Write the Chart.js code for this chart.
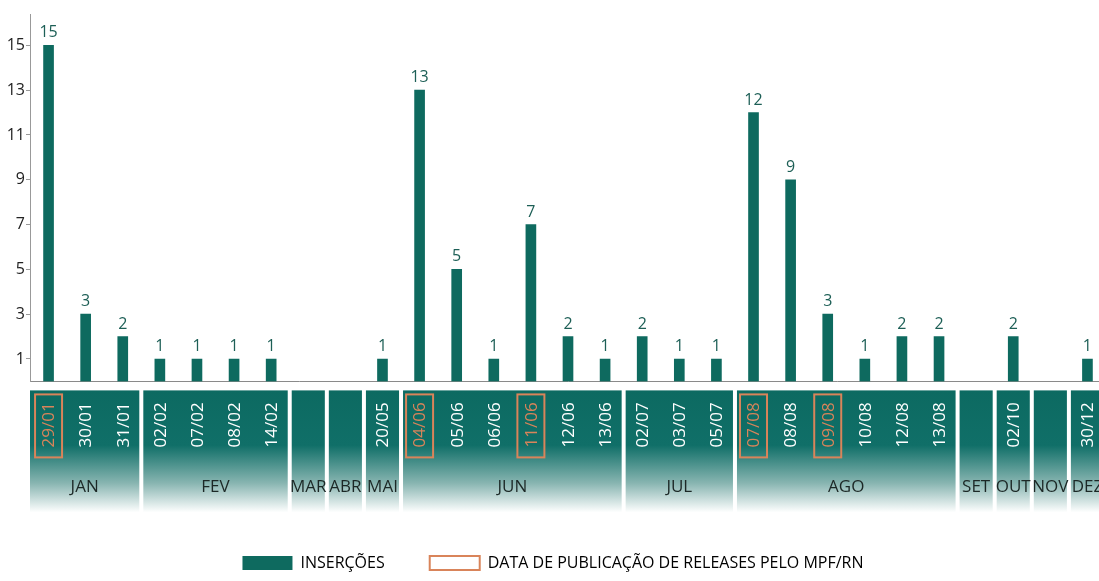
<!DOCTYPE html>
<html>
<head>
<meta charset="utf-8">
<title>Inserções</title>
<script src="https://cdn.jsdelivr.net/npm/chart.js@4"></script>
<style>
	html, body { margin: 0; padding: 0; background: #fff; overflow: hidden; }
	#wrap { position: relative; width: 1116px; height: 581px; }
</style>
</head>
<body>
<div id="wrap"><canvas id="chart"></canvas></div>
<script>
// dates with insertions ('' = month without any)
const dates = [
	'29/01', '30/01', '31/01',
	'02/02', '07/02', '08/02', '14/02',
	'', '',
	'20/05',
	'04/06', '05/06', '06/06', '11/06', '12/06', '13/06',
	'02/07', '03/07', '05/07',
	'07/08', '08/08', '09/08', '10/08', '12/08', '13/08',
	'',
	'02/10',
	'',
	'30/12'
];
const insercoes = [
	15, 3, 2,
	1, 1, 1, 1,
	null, null,
	1,
	13, 5, 1, 7, 2, 1,
	2, 1, 1,
	12, 9, 3, 1, 2, 2,
	null,
	2,
	null,
	1
];
const months = ['JAN', 'FEV', 'MAR', 'ABR', 'MAI', 'JUN', 'JUL', 'AGO', 'SET', 'OUT', 'NOV', 'DEZ'];
const monthSizes = [3, 4, 1, 1, 1, 6, 3, 6, 1, 1, 1, 1];
const releaseDates = ['29/01', '04/06', '11/06', '07/08', '09/08'];
const yTicks = [1, 3, 5, 7, 9, 11, 13, 15];

const TEAL = '#0e6a5f';
const ORANGE = '#d9845a';
const FONT = '"Open Sans", sans-serif';

// value above each bar
const valueLabels = {
	id: 'valueLabels',
	afterDatasetsDraw (chart) {
		const ctx = chart.ctx;
		const meta = chart.getDatasetMeta(0);
		ctx.save();
		ctx.font = '16px ' + FONT;
		ctx.fillStyle = '#1d5f56';
		ctx.textAlign = 'center';
		ctx.textBaseline = 'alphabetic';
		meta.data.forEach((bar, i) => {
			const v = insercoes[i];
			if (v === null) return;
			ctx.fillText(String(v), bar.x, bar.y - 8);
		});
		ctx.restore();
	}
};

// month band under the axis, with rotated dates
const monthBand = {
	id: 'monthBand',
	afterDraw (chart) {
		const ctx = chart.ctx;
		const x = chart.scales.x;
		const area = chart.chartArea;
		const slot = x.getPixelForValue(1) - x.getPixelForValue(0);
		const top = area.bottom + 9;
		const bottom = area.bottom + 131;

		const grad = ctx.createLinearGradient(0, top, 0, bottom);
		grad.addColorStop(0, '#0c6a61');
		grad.addColorStop(0.45, '#106f68');
		grad.addColorStop(0.76, '#88b5b1');
		grad.addColorStop(1, '#ffffff');

		ctx.save();
		let start = 0;
		months.forEach((name, g) => {
			const end = start + monthSizes[g] - 1;
			let l = x.getPixelForValue(start) - slot / 2;
			let r = x.getPixelForValue(end) + slot / 2;
			l = g === 0 ? area.left : l + 2;
			r = r - 2;
			ctx.fillStyle = grad;
			ctx.fillRect(l, top, r - l, bottom - top);

			ctx.fillStyle = '#1c2826';
			ctx.font = '17px ' + FONT;
			ctx.textAlign = 'center';
			ctx.textBaseline = 'middle';
			ctx.fillText(name, (l + r) / 2, area.bottom + 106);
			start = end + 1;
		});

		// dates
		dates.forEach((d, i) => {
			if (!d) return;
			const px = x.getPixelForValue(i);
			const hl = releaseDates.includes(d);
			if (hl) {
				ctx.strokeStyle = ORANGE;
				ctx.lineWidth = 2;
				ctx.strokeRect(px - 13.5, area.bottom + 13, 27, 63);
			}
			ctx.save();
			ctx.translate(px, area.bottom + 66);
			ctx.rotate(-Math.PI / 2);
			ctx.font = '17px ' + FONT;
			ctx.fillStyle = hl ? ORANGE : '#ffffff';
			ctx.textAlign = 'left';
			ctx.textBaseline = 'middle';
			ctx.fillText(d, 0, 1);
			ctx.restore();
		});
		ctx.restore();
	}
};

const ctx = document.getElementById('chart').getContext('2d');

const myChart = new Chart(ctx, {
	type: 'bar',
	data: {
		labels: dates,
		datasets: [{
			label: 'INSERÇÕES',
			data: insercoes,
			backgroundColor: TEAL,
			barThickness: 10
		}]
	},
	options: {
		responsive: true,
		maintainAspectRatio: false,
		animation: false,
		layout: {
			padding: { top: 14, right: 10, left: 0, bottom: 0 }
		},
		scales: {
			x: {
				grid: { display: false },
				border: { display: true, color: '#8a8a8a', width: 1 },
				ticks: { display: false },
				afterFit (scale) { scale.height = 128.6; }
			},
			y: {
				min: 0,
				max: 16.4,
				grid: {
					display: true,
					drawOnChartArea: false,
					drawTicks: true,
					tickLength: 4,
					color: '#999'
				},
				border: { display: true, color: '#999', width: 1 },
				ticks: {
					padding: 1,
					color: '#222',
					font: { family: FONT, size: 16 }
				},
				afterBuildTicks (scale) {
					scale.ticks = yTicks.map(v => ({ value: v }));
				},
				afterFit (scale) { scale.width = 30; }
			}
		},
		plugins: {
			tooltip: { enabled: false },
			legend: {
				position: 'bottom',
				labels: {
					boxWidth: 50,
					boxHeight: 14,
					padding: 45,
					color: '#222',
					font: { family: FONT, size: 16 },
					generateLabels () {
						return [
							{ text: 'INSERÇÕES', fillStyle: TEAL, strokeStyle: TEAL, lineWidth: 0, datasetIndex: 0 },
							{ text: 'DATA DE PUBLICAÇÃO DE RELEASES PELO MPF/RN', fillStyle: '#ffffff', strokeStyle: ORANGE, lineWidth: 2 }
						];
					}
				}
			}
		}
	},
	plugins: [valueLabels, monthBand]
});
</script>
</body>
</html>
